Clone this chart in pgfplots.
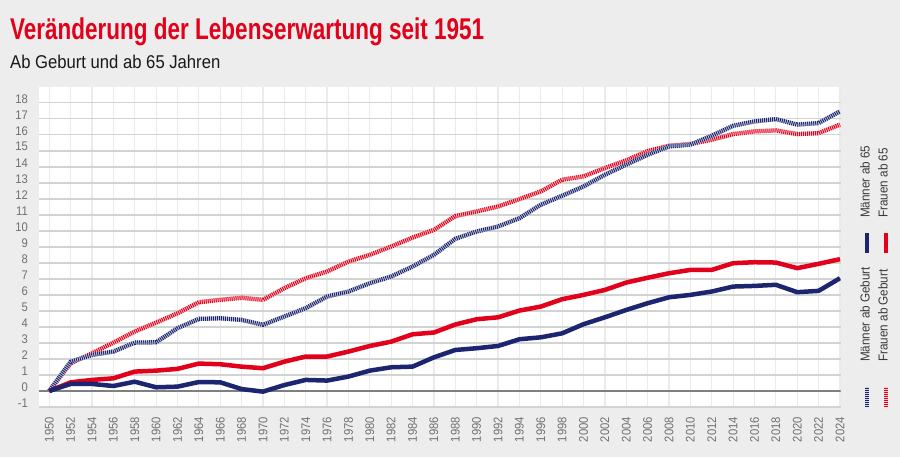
\documentclass[border=0pt]{standalone}
\usepackage{pgfplots}
\pgfplotsset{compat=1.18}
\usepackage{pgfplotstable}
\usepackage{fontspec}
\setmainfont{Liberation Sans}[FakeStretch=0.9]
\newfontfamily\titlefont{Liberation Sans}[FakeStretch=0.75]
\definecolor{bg}{HTML}{ECEDEC}
\definecolor{navy}{HTML}{1B2570}
\definecolor{rred}{HTML}{E2001A}
\definecolor{hgrid}{HTML}{D2D3D3}
\definecolor{vgrid}{HTML}{EAEBEB}
\definecolor{zline}{HTML}{7F7F7F}
\definecolor{ticktext}{HTML}{707070}
\definecolor{legtext}{HTML}{3A3A3A}

\pgfplotstableread{
year MG FG M65 F65
1950 0 0 0 0
1952 1.83 1.73 0.44 0.54
1954 2.25 2.35 0.44 0.69
1956 2.46 3.02 0.31 0.79
1958 3.02 3.71 0.58 1.21
1960 3.04 4.27 0.23 1.27
1962 3.92 4.85 0.27 1.38
1964 4.50 5.54 0.56 1.71
1966 4.54 5.69 0.54 1.67
1968 4.44 5.82 0.12 1.52
1970 4.13 5.69 -0.04 1.42
1972 4.65 6.42 0.37 1.83
1974 5.17 7.04 0.69 2.15
1976 5.90 7.46 0.65 2.15
1978 6.21 8.08 0.90 2.46
1980 6.73 8.50 1.27 2.81
1982 7.15 9.02 1.48 3.08
1984 7.77 9.58 1.52 3.54
1986 8.50 10.06 2.10 3.65
1988 9.50 10.92 2.56 4.15
1990 9.96 11.21 2.67 4.48
1992 10.27 11.52 2.81 4.60
1994 10.79 11.98 3.23 5.02
1996 11.63 12.46 3.35 5.27
1998 12.19 13.19 3.60 5.73
2000 12.77 13.40 4.17 6.00
2002 13.50 13.92 4.60 6.31
2004 14.13 14.40 5.06 6.77
2006 14.75 14.98 5.48 7.07
2008 15.27 15.31 5.85 7.35
2010 15.38 15.42 6.00 7.56
2012 15.94 15.69 6.21 7.56
2014 16.56 16.04 6.52 7.98
2016 16.83 16.21 6.56 8.04
2018 16.98 16.27 6.63 8.02
2020 16.63 16.04 6.17 7.67
2022 16.73 16.10 6.25 7.94
2024 17.46 16.63 7.04 8.23
}\datatab

\begin{document}
\begin{tikzpicture}[x=1pt,y=1pt]
\useasboundingbox (0,0) rectangle (900,457);
\fill[bg] (0,0) rectangle (900,457);
\node[anchor=base west, inner sep=0, text=rred, font=\titlefont\bfseries\fontsize{30}{34}\selectfont] at (10,417) {Veränderung der Lebenserwartung seit 1951};
\node[anchor=base west, inner sep=0, text=black!90, font=\fontsize{18.5}{22}\selectfont] at (10,388.7) {Ab Geburt und ab 65 Jahren};
\begin{axis}[at={(39pt,50pt)}, anchor=south west, scale only axis,
  width=801.5pt, height=320.3pt,
  xmin=1949.04, xmax=2024.05, ymin=-1, ymax=19,
  axis background/.style={fill=white},
  axis line style={draw=none},
  major tick length=0pt,
  xtick={1950,1952,...,2024}, ytick={-1,0,...,18},
  xmajorgrids, ymajorgrids,
  major x grid style={vgrid, line width=1.2pt},
  major y grid style={hgrid, line width=1.5pt},
  /pgf/number format/assume math mode=true,
  /pgf/number format/1000 sep={},
  tick label style={font=\fontsize{12.5}{14}\selectfont, text=ticktext},
  xticklabel style={rotate=90, anchor=east, inner sep=0pt},
  xticklabel shift=10pt,
  yticklabel style={anchor=east, inner sep=0pt, yshift=4pt},
  yticklabel shift=11pt,
  line join=round,
]
\draw[zline, line width=2pt] (rel axis cs:0,0.05) -- (rel axis cs:1,0.05);
\addplot[rred!20, line width=4.3pt] table[x=year,y=FG]{\datatab};
\addplot[rred, line width=4.3pt, dash pattern=on 1pt off 1pt] table[x=year,y=FG]{\datatab};
\addplot[navy!20, line width=4.3pt] table[x=year,y=MG]{\datatab};
\addplot[navy, line width=4.3pt, dash pattern=on 1pt off 1pt] table[x=year,y=MG]{\datatab};
\addplot[rred, line width=4.5pt] table[x=year,y=F65]{\datatab};
\addplot[navy, line width=4.5pt] table[x=year,y=M65]{\datatab};
\end{axis}
% legend
\draw[navy, line width=4pt] (867,204) -- (867,224);
\draw[rred, line width=4pt] (885.5,204) -- (885.5,224);
\node[rotate=90, anchor=west, inner sep=0, text=legtext, font=\fontsize{13}{15}\selectfont] at (865,239) {Männer ab 65};
\node[rotate=90, anchor=west, inner sep=0, text=legtext, font=\fontsize{13}{15}\selectfont] at (883,239) {Frauen ab 65};
\draw[navy!20, line width=4pt] (867,50) -- (867,70);
\draw[navy, line width=4pt, dash pattern=on 1pt off 1pt] (867,50) -- (867,70);
\draw[rred!20, line width=4pt] (885.5,50) -- (885.5,70);
\draw[rred, line width=4pt, dash pattern=on 1pt off 1pt] (885.5,50) -- (885.5,70);
\node[rotate=90, anchor=west, inner sep=0, text=legtext, font=\fontsize{13}{15}\selectfont] at (865,95) {Männer ab Geburt};
\node[rotate=90, anchor=west, inner sep=0, text=legtext, font=\fontsize{13}{15}\selectfont] at (883,95) {Frauen ab Geburt};
\end{tikzpicture}
\end{document}
